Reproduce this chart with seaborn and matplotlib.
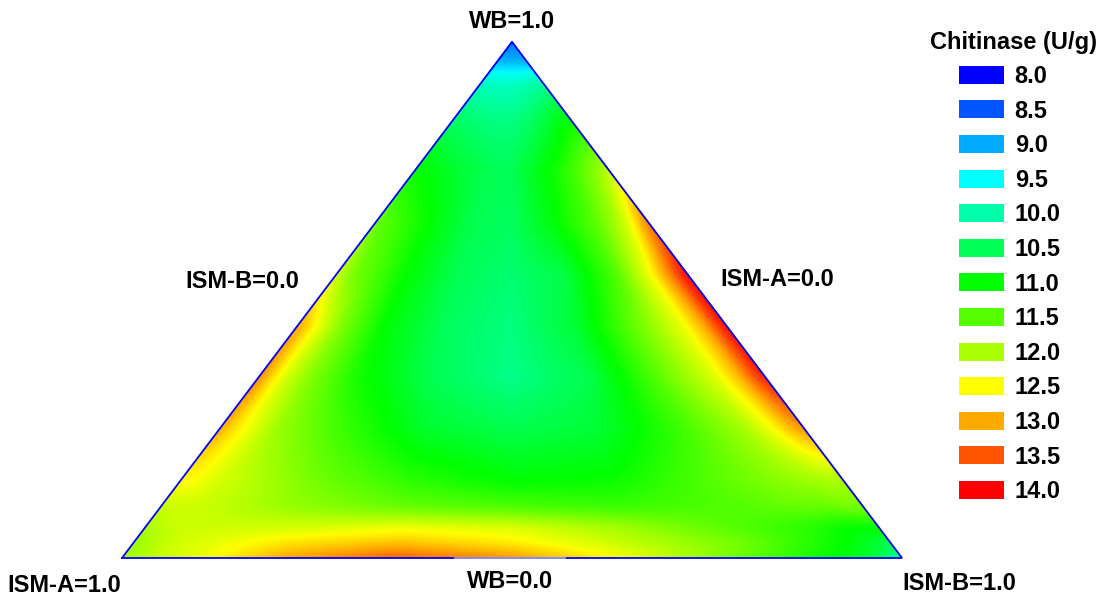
import numpy as np
import matplotlib
matplotlib.use("Agg")
import matplotlib.pyplot as plt
from matplotlib.patches import Patch
import seaborn as sns

# Legend
legend_title = "Chitinase (U/g)"
legend_values = [8.0, 8.5, 9.0, 9.5, 10.0, 10.5, 11.0, 11.5, 12.0, 12.5, 13.0, 13.5, 14.0]
legend_colors = ["#0000ff", "#0055ff", "#00aaff", "#00ffff", "#00ffaa", "#00ff55", "#00ff00",
                 "#55ff00", "#aaff00", "#ffff00", "#ffaa00", "#ff5500", "#ff0000"]

# Sampling of the mixture triangle: WB share, and position across each WB row
wb_levels = [0, .015, .03, .06, .10, .15, .25, .35, .45, .55, .65, .75, .85, .92, .94, .965, 1]
across = [0, .02, .05, .10, .20, .35, .50, .65, .80, .90, .95, .98, 1]

wb_000 = [12.0, 12.0, 12.2, 12.4, 13.0, 13.45, 13.1, 12.4, 11.6, 11.05, 10.8, 10.5, 10.1]
wb_015 = [11.95, 12.0, 12.2, 12.35, 12.8, 13.15, 12.85, 12.3, 11.65, 11.12, 10.88, 10.6, 10.3]
wb_030 = [11.9, 12.0, 12.2, 12.35, 12.65, 12.85, 12.6, 12.15, 11.7, 11.2, 10.95, 10.7, 10.5]
wb_060 = [12.0, 12.1, 12.2, 12.2, 12.25, 12.4, 12.3, 11.95, 11.5, 11.25, 11.05, 11.0, 11.1]
wb_100 = [12.2, 12.2, 12.2, 12.1, 11.85, 11.6, 11.45, 11.35, 11.45, 11.6, 11.6, 11.7, 11.7]
wb_150 = [12.5, 12.5, 12.3, 12.1, 11.7, 11.25, 11.0, 11.05, 11.5, 11.8, 11.95, 12.0, 12.0]
wb_250 = [13.0, 12.7, 12.4, 11.9, 11.4, 10.75, 10.55, 10.7, 11.4, 12.0, 12.5, 12.9, 13.1]
wb_350 = [13.2, 12.8, 12.3, 11.8, 11.1, 10.5, 10.2, 10.55, 11.6, 12.3, 12.9, 13.5, 13.8]
wb_450 = [13.0, 12.8, 12.4, 11.8, 11.0, 10.45, 10.25, 10.7, 11.7, 12.4, 13.0, 13.6, 13.9]
wb_550 = [12.3, 12.0, 11.7, 11.5, 11.0, 10.5, 10.35, 10.6, 11.5, 12.5, 13.2, 13.7, 13.9]
wb_650 = [11.8, 11.55, 11.45, 11.3, 11.0, 10.55, 10.45, 10.95, 11.5, 12.1, 12.6, 13.0, 13.2]
wb_750 = [11.1, 11.05, 11.0, 10.9, 10.75, 10.55, 10.5, 10.9, 11.35, 11.7, 11.9, 12.05, 12.2]
wb_850 = [10.4, 10.4, 10.4, 10.35, 10.3, 10.25, 10.25, 10.4, 10.65, 10.9, 10.9, 10.95, 11.0]
wb_920 = [9.9, 9.9, 9.9, 9.85, 9.85, 9.85, 9.85, 9.9, 9.95, 10.0, 10.05, 10.1, 10.1]
wb_940 = [9.55, 9.55, 9.55, 9.55, 9.55, 9.55, 9.55, 9.55, 9.6, 9.6, 9.65, 9.65, 9.65]
wb_965 = [9.05, 9.05, 9.05, 9.05, 9.05, 9.05, 9.05, 9.05, 9.05, 9.05, 9.05, 9.05, 9.05]
wb_apex = [8.7] * 13

rows = np.array([wb_000, wb_015, wb_030, wb_060, wb_100, wb_150, wb_250, wb_350, wb_450,
                 wb_550, wb_650, wb_750, wb_850, wb_920, wb_940, wb_965, wb_apex])

W, H = 1105, 597
sns.set_theme(style="white")
plt.rcParams["font.family"] = ["Liberation Sans", "DejaVu Sans"]
cmap = sns.blend_palette(legend_colors, n_colors=256, as_cmap=True)

fig = plt.figure(figsize=(W / 100, H / 100), dpi=100, facecolor="white")
ax = fig.add_axes([122 / W, 1 - 558 / H, 780 / W, 516 / H])
ax.set_xlim(0, 1)
ax.set_ylim(0, 1)
ax.axis("off")

# Shade between the read values, row by row then across, with slight softening
fine_u = np.linspace(0, 1, 401)
fine_w = np.linspace(0, 1, 401)
per_row = np.array([np.interp(fine_u, across, r) for r in rows])
field = np.array([np.interp(fine_w, wb_levels, per_row[:, j]) for j in range(fine_u.size)]).T


def soften(a, half, axis):
    k = np.exp(-0.5 * (np.arange(-half, half + 1) / (half / 2)) ** 2)
    k /= k.sum()
    pad = [(0, 0), (0, 0)]
    pad[axis] = (half, half)
    padded = np.pad(a, pad, mode="edge")
    return np.apply_along_axis(lambda s: np.convolve(s, k, mode="valid"), axis, padded)


field = soften(soften(field, 6, 1), 5, 0)
U, V = np.meshgrid(fine_u, fine_w)
X = V / 2 + U * (1 - V)
ax.pcolormesh(X, V, field, shading="gouraud", cmap=cmap, vmin=8, vmax=14, zorder=1)

ax.plot([0, 1, .5, 0], [0, 0, 1, 0], color="#0000ff", lw=1.3, clip_on=False, zorder=2,
        solid_joinstyle="miter")

label_font = dict(fontsize=17, fontweight="bold", color="black", ha="center", va="center", zorder=5)
fig.text(512 / W, 1 - 22 / H, "WB=1.0", **label_font)
fig.text(242 / W, 1 - 281 / H, "ISM-B=0.0", **label_font)
fig.text(777 / W, 1 - 279 / H, "ISM-A=0.0", **label_font)
fig.text(64.5 / W, 1 - 585 / H, "ISM-A=1.0", **label_font)
fig.text(959 / W, 1 - 584 / H, "ISM-B=1.0", **label_font)
fig.text(510 / W, 1 - 581 / H, "WB=0.0",
         bbox=dict(facecolor="white", edgecolor="none", alpha=0.5, pad=9), **label_font)
fig.text(1013.5 / W, 1 - 42 / H, legend_title, **label_font)

handles = [Patch(facecolor=c, edgecolor="none", label=f"{v:.1f}")
           for v, c in zip(legend_values, legend_colors)]
leg = fig.legend(handles=handles, loc="upper left",
                 bbox_to_anchor=(959 / W, 1 - 65 / H), frameon=False, fontsize=17,
                 handlelength=1.9, handleheight=0.8, handletextpad=0.46,
                 labelspacing=0.491, borderpad=0, borderaxespad=0, labelcolor="black")
for t in leg.get_texts():
    t.set_fontweight("bold")

fig.savefig("out.png", dpi=100, facecolor="white")
